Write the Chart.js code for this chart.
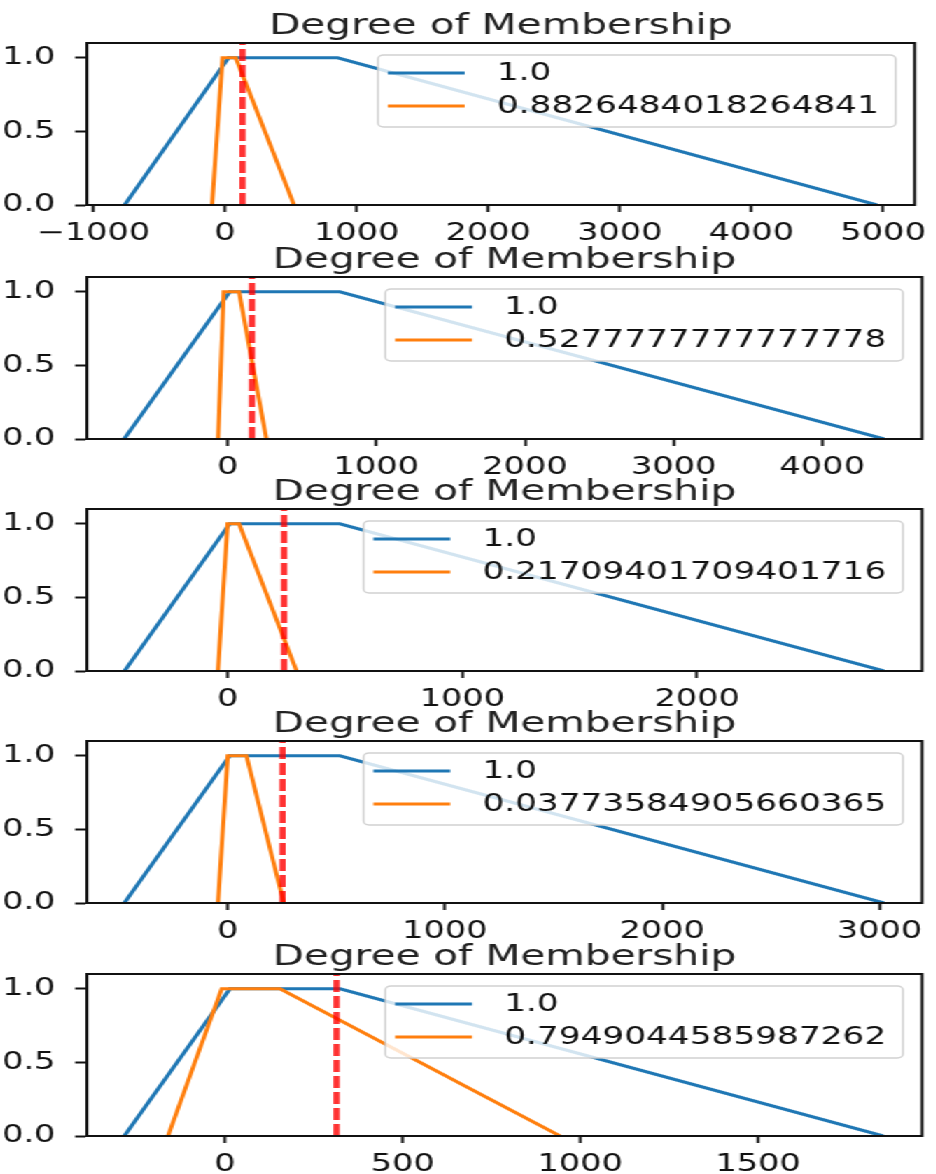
<!DOCTYPE html>
<html>
<head>
<meta charset="utf-8">
<script src="https://cdn.jsdelivr.net/npm/chart.js@4.4.1/dist/chart.umd.min.js"></script>
<style>
  html, body { margin: 0; padding: 0; background: #fff; overflow: hidden; }
  #wrap { position: absolute; left: 0; top: 0; width: 669px; height: 1174px;
          transform: scaleX(1.4); transform-origin: 0 0; }
  #wrap canvas { position: absolute; left: 0; }
</style>
</head>
<body>
<div id="wrap"></div>
<script>
// membership shapes: every curve is a trapezoid 0 -> 1 -> 1 -> 0
const memberY = [0, 1, 1, 0];

const blueX1 = [-763, 26, 855, 4953];
const blueX2 = [-697, 13, 754, 4416];
const blueX3 = [-440, 8, 477, 2796];
const blueX4 = [-476, 9, 516, 3021];
const blueX5 = [-283, 14, 324, 1852];

const orangeX1 = [-99, -19, 81, 524];
const orangeX2 = [-65, -27, 76, 260];
const orangeX3 = [-42, -1, 48, 293];
const orangeX4 = [-45, 0, 86, 258];
const orangeX5 = [-160, -9, 155, 943];

// red dashed marker (input value)
const redX = [133, 163, 240, 252, 314];

const blueLabel = '1.0';
const orangeLabels = ['0.8826484018264841', '0.5277777777777778', '0.21709401709401716',
                      '0.03773584905660365', '0.7949044585987262'];

const xTicks1 = [-1000, 0, 1000, 2000, 3000, 4000, 5000];
const xTicks2 = [0, 1000, 2000, 3000, 4000];
const xTicks3 = [0, 1000, 2000];
const xTicks4 = [0, 1000, 2000, 3000];
const xTicks5 = [0, 500, 1000, 1500];
const yTicks = [0, 0.5, 1.0];

const title = 'Degree of Membership';

Chart.defaults.font.family = '"DejaVu Sans", sans-serif';

// panel layout (unscaled px; page is stretched 1.4x horizontally)
const PLOT_H = 162.5;
const TITLE_BLOCK = 39;
const XAXIS_BLOCK = 42;
const panels = [
  { top: 43,    blue: blueX1, orange: orangeX1, ticks: xTicks1, xmin: -1049, xmax: 5239 },
  { top: 276.5, blue: blueX2, orange: orangeX2, ticks: xTicks2, xmin: -947,  xmax: 4671 },
  { top: 508.5, blue: blueX3, orange: orangeX3, ticks: xTicks3, xmin: -600,  xmax: 2958 },
  { top: 741,   blue: blueX4, orange: orangeX4, ticks: xTicks4, xmin: -648,  xmax: 3196 },
  { top: 973.5, blue: blueX5, orange: orangeX5, ticks: xTicks5, xmin: -388,  xmax: 1961 }
];

const toPoints = (xs) => xs.map((x, i) => ({ x: x, y: memberY[i] }));
const fmtX = (v) => v < 0 ? '\u2212' + Math.abs(v) : String(v);

// full frame around the axes + matplotlib style legend box
const framePlugin = {
  id: 'frame',
  afterDatasetsDraw(chart) {
    const { ctx, chartArea: a } = chart;
    ctx.save();
    ctx.strokeStyle = '#111';
    ctx.lineWidth = 2;
    ctx.strokeRect(a.left, a.top, a.right - a.left, a.bottom - a.top);

    const items = chart.data.datasets.filter(d => !d.noLegend);
    ctx.font = '24.5px "DejaVu Sans"';
    const tw = Math.max(...items.map(d => ctx.measureText(d.label).width));
    const w = 7 + 55 + 21 + tw + 14;
    const h = 72;
    const x = a.right - 13.6 - w;
    const y = a.top + 12;
    ctx.beginPath();
    ctx.roundRect(x, y, w, h, 4);
    ctx.fillStyle = 'rgba(255,255,255,0.8)';
    ctx.fill();
    ctx.strokeStyle = 'rgba(204,204,204,0.9)';
    ctx.lineWidth = 1.5;
    ctx.stroke();
    items.forEach((d, i) => {
      const cy = y + 18 + i * 33;
      ctx.beginPath();
      ctx.moveTo(x + 7, cy);
      ctx.lineTo(x + 62, cy);
      ctx.strokeStyle = d.borderColor;
      ctx.lineWidth = 3;
      ctx.stroke();
      ctx.fillStyle = '#111';
      ctx.textBaseline = 'middle';
      ctx.textAlign = 'left';
      ctx.fillText(d.label, x + 85, cy + 1);
    });
    ctx.restore();
  }
};

const wrap = document.getElementById('wrap');

panels.forEach((p, i) => {
  const canvas = document.createElement('canvas');
  canvas.width = 669;
  canvas.height = TITLE_BLOCK + PLOT_H + XAXIS_BLOCK;
  canvas.style.top = (p.top - TITLE_BLOCK) + 'px';
  wrap.appendChild(canvas);

  new Chart(canvas.getContext('2d'), {
    type: 'scatter',
    data: {
      datasets: [
        { label: blueLabel, data: toPoints(p.blue), showLine: true, borderColor: '#1f77b4',
          borderWidth: 3, pointRadius: 0, order: 2 },
        { label: orangeLabels[i], data: toPoints(p.orange), showLine: true, borderColor: '#ff7f0e',
          borderWidth: 3, pointRadius: 0, order: 1 },
        { label: 'input', noLegend: true, data: [{ x: redX[i], y: 0 }, { x: redX[i], y: 1.1 }],
          showLine: true, borderColor: 'rgba(255,0,0,0.8)', borderWidth: 4.5, borderDash: [12, 4],
          pointRadius: 0, order: 0 }
      ]
    },
    options: {
      responsive: false,
      animation: false,
      layout: { padding: { left: 0, right: 10.4, top: 0, bottom: 0 } },
      plugins: {
        legend: { display: false },
        tooltip: { enabled: false },
        title: {
          display: true,
          fullSize: false,
          text: title,
          color: '#222',
          font: { size: 29, weight: 'normal', lineHeight: 1 },
          padding: { top: 8, bottom: 2 }
        }
      },
      scales: {
        x: {
          type: 'linear',
          min: p.xmin,
          max: p.xmax,
          afterBuildTicks: (s) => { s.ticks = p.ticks.map(v => ({ value: v })); },
          afterFit: (s) => { s.height = XAXIS_BLOCK; },
          grid: { drawOnChartArea: false, drawTicks: true, tickLength: 7, tickWidth: 2, tickColor: '#111' },
          border: { display: true, color: '#111', width: 2 },
          ticks: { color: '#111', font: { size: 24 }, padding: 7, autoSkip: false,
                   maxRotation: 0, minRotation: 0, callback: (v) => fmtX(v) }
        },
        y: {
          min: 0,
          max: 1.1,
          afterBuildTicks: (s) => { s.ticks = yTicks.map(v => ({ value: v })); },
          afterFit: (s) => { s.width = 62.1; },
          grid: { drawOnChartArea: false, drawTicks: true, tickLength: 8.5, tickWidth: 2, tickColor: '#111' },
          border: { display: true, color: '#111', width: 2 },
          ticks: { color: '#111', font: { size: 24 }, padding: 14, callback: (v) => v.toFixed(1) }
        }
      }
    },
    plugins: [framePlugin]
  });
});
</script>
</body>
</html>
